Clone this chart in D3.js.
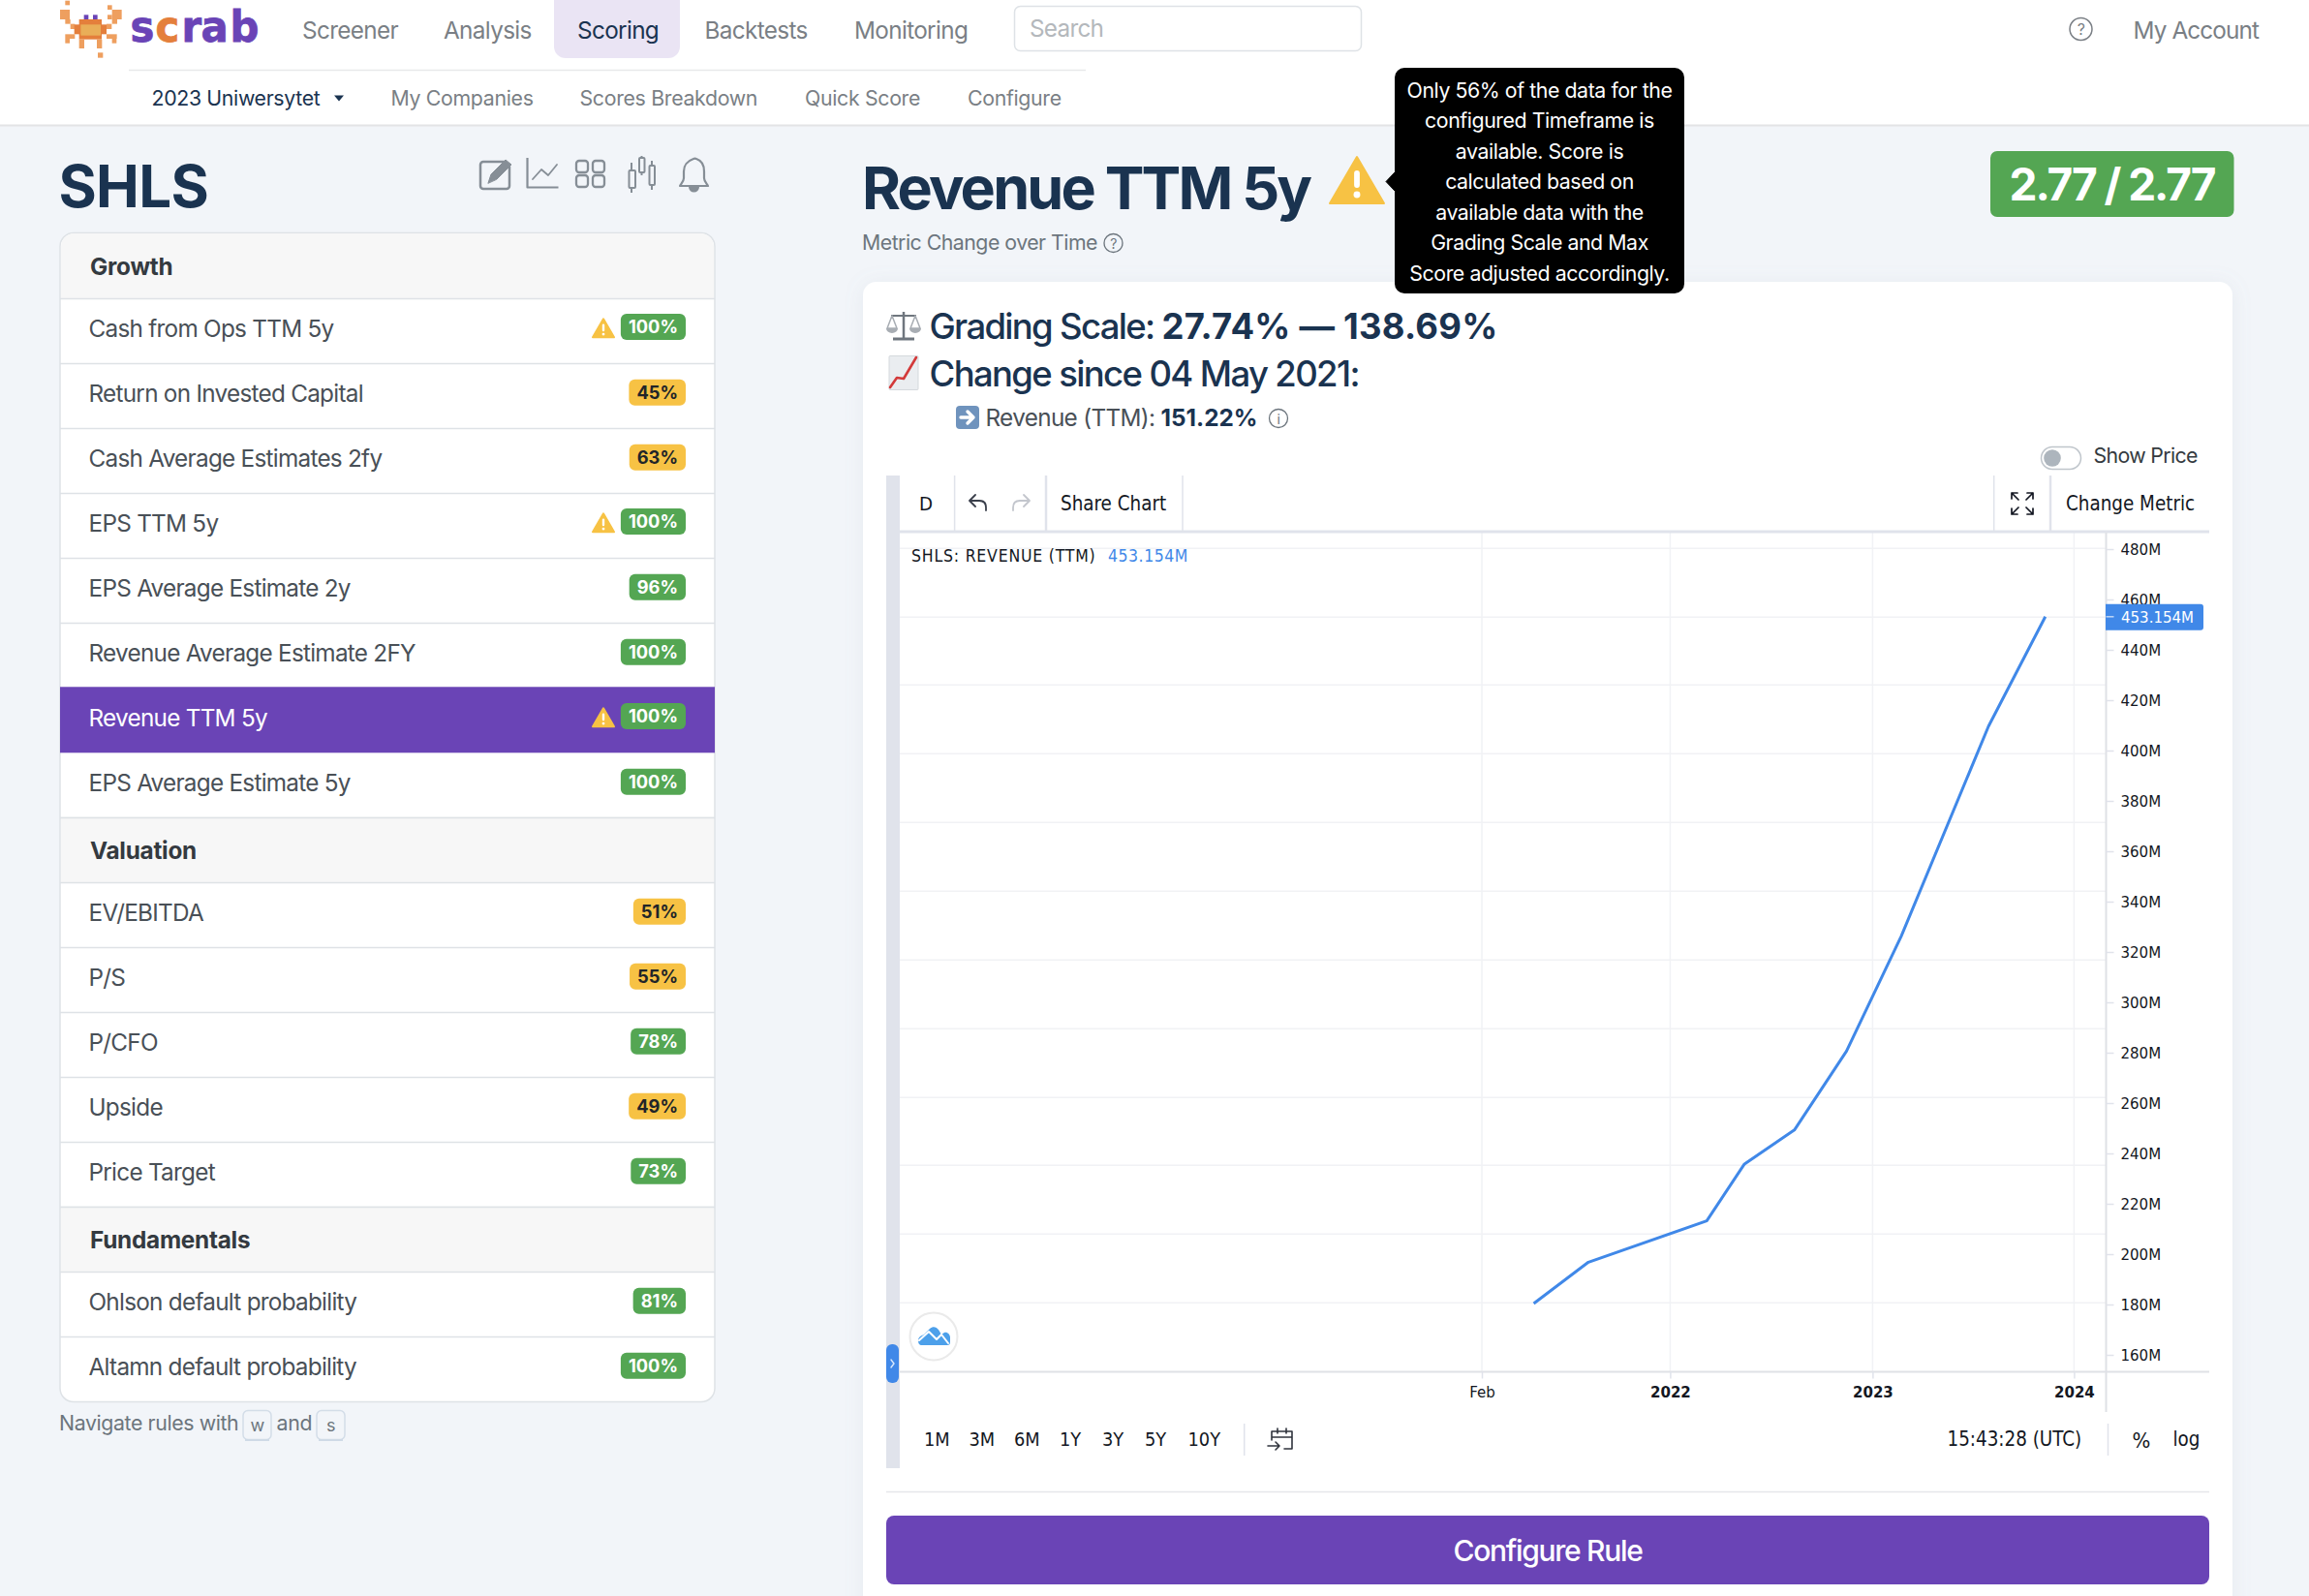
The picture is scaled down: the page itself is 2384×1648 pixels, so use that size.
<!DOCTYPE html>
<html><head><meta charset="utf-8">
<script src="https://cdnjs.cloudflare.com/ajax/libs/d3/7.8.5/d3.min.js"></script>
<style>html,body{margin:0;padding:0;background:#F2F5F9;overflow:hidden}svg{display:block}</style>
</head><body><div id="c"></div>
<script>
// ---------- data ----------
const lineDates = ["2021-05-04","2021-08-09","2022-03-08","2022-05-15","2022-08-13","2022-11-15","2023-02-22","2023-07-30","2023-11-10"];
const lineValues = [180.4,196.8,213.2,235.8,249.3,280.6,326.3,409.6,453.154];
const priceTicks = [160,180,200,220,240,260,280,300,320,340,360,380,400,420,440,460,480];
const gridValues = [480.3,453.1,426,398.7,371.4,344.1,316.8,289.5,262.2,235.3,208,180.7];
const timeTickDates = ["2021-02-01","2022-01-01","2023-01-01","2024-01-01"];
const timeTickLabels = ["Feb","2022","2023","2024"];
const rangeLabels = ["1M","3M","6M","1Y","3Y","5Y","10Y"];
const navItems = ["Screener","Analysis","Scoring","Backtests","Monitoring"];
const subNavItems = ["My Companies","Scores Breakdown","Quick Score","Configure"];
const groupNames = ["Growth","Valuation","Fundamentals"];
const growthRules = ["Cash from Ops TTM 5y","Return on Invested Capital","Cash Average Estimates 2fy","EPS TTM 5y","EPS Average Estimate 2y","Revenue Average Estimate 2FY","Revenue TTM 5y","EPS Average Estimate 5y"];
const growthScores = [100,45,63,100,96,100,100,100];
const valuationRules = ["EV/EBITDA","P/S","P/CFO","Upside","Price Target"];
const valuationScores = [51,55,78,49,73];
const fundamentalRules = ["Ohlson default probability","Altamn default probability"];
const fundamentalScores = [81,100];
const warnedRules = ["Cash from Ops TTM 5y","EPS TTM 5y","Revenue TTM 5y"];
const activeRule = "Revenue TTM 5y";
const tooltipLines = ["Only 56% of the data for the","configured Timeframe is","available. Score is","calculated based on","available data with the","Grading Scale and Max","Score adjusted accordingly."];

// ---------- helpers ----------
const W=2384,H=1648;
const INTER="Inter, 'Noto Sans', sans-serif", TV="'DejaVu Sans Condensed', 'Noto Sans', sans-serif";
const NAVY="#1A3350",GREY="#7A7F85",MID="#495057",MUTED="#6C757D",BLUE="#4088E8",PURPLE="#6A44B6",GREEN="#54A653",YELLOW="#F7C244",LINE="#DEE2E6",TVLINE="#E0E3EB",GRID="#F1F2F5",INK="#131722";
const svg=d3.select("#c").append("svg").attr("width",W).attr("height",H).attr("viewBox",`0 0 ${W} ${H}`);
const defs=svg.append("defs");
const f=defs.append("filter").attr("id","soft").attr("x","-5%").attr("y","-5%").attr("width","110%").attr("height","110%");
f.append("feDropShadow").attr("dx",0).attr("dy",2).attr("stdDeviation",10).attr("flood-color","#8a99ad").attr("flood-opacity",.12);
function T(p,x,y,s,o={}){
  const fam=o.fam||INTER,w=o.w||400;
  const ls=o.ls!==undefined?o.ls:(fam===INTER&&w<700?-0.03:0);
  return p.append("text").attr("x",x).attr("y",y).attr("font-family",fam).attr("font-size",o.size||24.3).attr("font-weight",w).attr("fill",o.fill||MID).attr("text-anchor",o.a||"start").attr("letter-spacing",ls+"em").text(s);
}
function R(p,x,y,w,h,fill,r=0,o={}){const e=p.append("rect").attr("x",x).attr("y",y).attr("width",w).attr("height",h).attr("rx",r).attr("fill",fill);if(o.stroke)e.attr("stroke",o.stroke).attr("stroke-width",o.sw||1.5);return e;}
function L(p,x1,y1,x2,y2,c,w=1.5){return p.append("line").attr("x1",x1).attr("y1",y1).attr("x2",x2).attr("y2",y2).attr("stroke",c).attr("stroke-width",w);}
function P(p,d,o={}){return p.append("path").attr("d",d).attr("fill",o.fill||"none").attr("stroke",o.stroke||"none").attr("stroke-width",o.sw||2).attr("stroke-linecap",o.cap||"round").attr("stroke-linejoin","round");}
function warn(p,x,y,w,h){
  const m=x+w/2;
  P(p,`M${m} ${y+1}L${x+w-1} ${y+h-1}L${x+1} ${y+h-1}Z`,{fill:YELLOW,stroke:YELLOW,sw:2});
  R(p,m-w*.05,y+h*.3,w*.1,h*.36,"#fff",w*.05);
  p.append("circle").attr("cx",m).attr("cy",y+h*.8).attr("r",w*.06).attr("fill","#fff");
}
R(svg,0,0,W,H,"#F2F5F9");

// ---------- top nav ----------
const nav=svg.append("g");
R(nav,0,0,W,129,"#fff");
L(nav,0,129.5,W,129.5,"#E3E4E6",2);
P(nav,"M572 0H702V48a12 12 0 0 1-12 12H584a12 12 0 0 1-12-12Z",{fill:"#EAE4F4"});
const navX=[312,458,596,727.6,882];
navItems.forEach((n,i)=>T(nav,navX[i],39.5,n,{fill:n==="Scoring"?NAVY:GREY,ls:-0.027}));
R(nav,1047.5,6.5,358,46,"#fff",6,{stroke:LINE});
T(nav,1063,38,"Search",{fill:"#B4B8BC"});
nav.append("circle").attr("cx",2148.5).attr("cy",30).attr("r",11.5).attr("fill","none").attr("stroke",GREY).attr("stroke-width",1.5);
T(nav,2148.5,36,"?",{size:16,fill:GREY,a:"middle"});
T(nav,2202.5,39.5,"My Account",{fill:GREY,ls:-0.036});
L(nav,133,72.5,1121,72.5,"#E8E9EA",1.5);
T(nav,156.5,109,"2023 Uniwersytet",{size:21.3,fill:NAVY,ls:-0.016});
P(nav,"M345 98.5h10l-5 6Z",{fill:NAVY});
const subX=[403.5,598.5,831,999];
subNavItems.forEach((n,i)=>T(nav,subX[i],109,n,{size:21.3,fill:GREY,ls:-0.015}));

// logo
const logo=svg.append("g").attr("transform","translate(50,0) scale(.3333)");
const lightO="#EE9F5F",darkO="#E47F3C";
[[52,2,14,14,lightO],[183,16,14,14,lightO],[36,30,30,30,lightO],[52,60,16,14,lightO],[68,74,14,16,lightO],[197,30,30,30,lightO],[183,46,14,14,lightO],[197,60,16,14,lightO],[180,74,16,16,lightO],
 [110,46,14,14,PURPLE],[138,46,14,14,PURPLE],[95,60,70,62,darkO],[80,76,100,30,darkO],[100,76,62,34,"#E9AE58"],
 [52,106,30,14,lightO],[52,120,14,14,lightO],[180,106,32,14,lightO],[197,120,14,14,lightO],[95,122,16,28,lightO],[150,122,16,28,lightO],[153,163,16,16,lightO]
].forEach(d=>R(logo,d[0],d[1],d[2],d[3],d[4]));
const word=svg.append("g");
[["s",134.5,PURPLE],["c",160.5,darkO],["r",187.5,PURPLE],["a",207.5,PURPLE],["b",237.5,PURPLE]].forEach(d=>T(word,0,0,d[0],{fam:"'DejaVu Sans'",w:700,size:44,fill:d[2]}).attr("transform",`translate(${d[1]},43) scale(.95,1)`).attr("stroke",d[2]).attr("stroke-width",.8));

// ---------- left column ----------
T(svg,60.5,214,"SHLS",{size:60,w:700,fill:NAVY,ls:-0.012});
const ic=svg.append("g");
const IC="#868E96";
P(ic,"M522 167H499a3 3 0 0 0-3 3v22a3 3 0 0 0 3 3h24a3 3 0 0 0 3-3V172",{stroke:IC,sw:2.5});
P(ic,"M504 189l3-9 15-15 6 5-15 15Z",{fill:IC,stroke:IC,sw:1});
P(ic,"M544.5 163V193.5H576.5",{stroke:IC,sw:2.2,cap:"butt"});
P(ic,"M550 185l9-10 7 6 9-11",{stroke:IC,sw:1.8});
[[595,166],[612,166],[595,181],[612,181]].forEach(a=>R(ic,a[0],a[1],12,12,"none",3,{stroke:IC,sw:2.3}));
[[652,176,6,18,168,199],[662.5,163,5,15,161,181],[673,171,5,20,166,196]].forEach(a=>{R(ic,a[0]-2.5,a[1],a[2]+.5,a[3],"none",1,{stroke:IC,sw:2});L(ic,a[0],a[4],a[0],a[1],IC,2);L(ic,a[0],a[1]+a[3],a[0],a[5],IC,2);});
P(ic,"M716 164a3 3 0 0 1 3 0c6 2 8 7 8 13v7c0 3 2 5 4 8H702c2-3 4-5 4-8v-7c0-6 4-11 10-13Z",{stroke:IC,sw:2.2});
P(ic,"M711 193a5.5 5.5 0 0 0 11 0Z",{fill:IC});

const list=svg.append("g");
R(list,62,240.5,676,1207,"#fff",14,{stroke:LINE});
const ROW=67;
const groups=[[groupNames[0],growthRules,growthScores],[groupNames[1],valuationRules,valuationScores],[groupNames[2],fundamentalRules,fundamentalScores]];
let yCur=241;
groups.forEach((g,gi)=>{
  const hT=gi===0?241:yCur, hH=gi===0?67.3:ROW;
  if(gi===0)P(list,`M63 ${hT+hH}V255a14 14 0 0 1 14-14H723a14 14 0 0 1 14 14V${hT+hH}Z`,{fill:"#F7F7F7"});
  else {R(list,63,hT,674,hH,"#F7F7F7");L(list,62,hT+.2,738,hT+.2,LINE,1.5);}
  T(list,93,hT+hH-24.2,g[0],{w:700,size:24.3,fill:"#343A40",ls:-0.01});
  L(list,62,hT+hH+.2,738,hT+hH+.2,LINE,1.5);
  yCur=hT+hH;
  g[1].forEach((name,i)=>{
    const active=name===activeRule,w=warnedRules.includes(name),top=yCur;
    if(active)R(list,62,top-1,676,ROW+1,PURPLE);
    T(list,91.5,top+39.6,name,{fill:active?"#fff":MID});
    const s=g[2][i],good=s>=70,by=top+(w?15.6:16.4);
    const b=list.append("g");
    const rect=R(b,640,by,68,27,good?GREEN:YELLOW,6);
    const tx=T(b,700,by+20,s+"%",{size:18.3,w:700,fill:good?"#fff":"#212529",a:"end"});
    const tw=tx.node().getComputedTextLength();
    rect.attr("x",700-tw-8).attr("width",tw+16);
    if(w)warn(list,611,top+20,24,21);
    yCur=top+ROW;
    if(!(gi===2&&i===g[1].length-1)&&!active)L(list,62,yCur+.2,738,yCur+.2,LINE,1.5);
  });
});
T(svg,61,1477,"Navigate rules with",{size:21.3,fill:MUTED,ls:-0.018});
T(svg,285.5,1477,"and",{size:21.3,fill:MUTED,ls:-0.015});
[[251,"w"],[327,"s"]].forEach(d=>{
  R(svg,d[0],1456.5,29,30,"#F2F5F9",5,{stroke:"#D3DDE8",sw:1.5});
  L(svg,d[0]+2,1487,d[0]+27,1487,"#CFDAE6",2);
  T(svg,d[0]+14.5,1478,d[1],{size:18,fill:MUTED,a:"middle"});
});

// ---------- right header ----------
T(svg,890,216,"Revenue TTM 5y",{size:61,w:700,fill:NAVY,ls:-0.046});
warn(svg,1372,161,58,50);
R(svg,2055,156,251.5,68,GREEN,7);
T(svg,2180.5,206.5,"2.77 / 2.77",{size:46,w:700,fill:"#fff",a:"middle",ls:-0.045});
T(svg,890,258,"Metric Change over Time",{size:21.3,fill:MUTED,ls:-0.024});
svg.append("circle").attr("cx",1149.5).attr("cy",251).attr("r",9.5).attr("fill","none").attr("stroke",MUTED).attr("stroke-width",1.3);
T(svg,1149.5,256.5,"?",{size:14,fill:MUTED,a:"middle"});

// ---------- card ----------
const card=svg.append("g");
R(card,891,291,1414,1390,"#fff",14).attr("filter","url(#soft)");
function scaleEmoji(g){
  const c="#A8ADB3",d="#6F767E";
  L(g,933,322,933,350,d,2.5);L(g,922,350,944,350,d,3);L(g,920,326,946,326,d,2);
  P(g,"M921 326l-5 13h10ZM945 326l-5 13h10Z",{stroke:c,sw:1.5});
  P(g,"M915 339a6 5 0 0 0 12 0ZM939 339a6 5 0 0 0 12 0Z",{fill:c});
}
scaleEmoji(card);
T(card,959.5,350,"Grading Scale: ",{size:36.5,w:500,fill:NAVY,ls:-0.046}).append("tspan").attr("font-weight",700).attr("letter-spacing","0.006em").text("27.74% — 138.69%");
R(card,918,367.5,30,35,"#EAEDF0",1,{stroke:"#D5D9DD",sw:1});
P(card,"M919 400l7-10 7 1 13-22",{stroke:"#D33A3A",sw:2.6});
T(card,959.5,399,"Change since 04 May 2021:",{size:36.5,w:500,fill:NAVY,ls:-0.045});
R(card,987,419,24,24,"#6F93BD",4);
P(card,"M992 431h13M999 425l6 6-6 6",{stroke:"#fff",sw:3.4});
T(card,1017.5,440,"Revenue (TTM): ",{size:24.3,fill:MID,ls:-0.027}).append("tspan").attr("font-weight",700).attr("letter-spacing","0em").attr("fill",NAVY).text("151.22%");
card.append("circle").attr("cx",1320).attr("cy",432).attr("r",9.5).attr("fill","none").attr("stroke",MUTED).attr("stroke-width",1.3);
T(card,1320,437.5,"i",{size:14,fill:MUTED,a:"middle"});
R(card,2107.5,461.5,41,23,"#fff",11.5,{stroke:"#BFC5CB",sw:1.5});
card.append("circle").attr("cx",2119).attr("cy",473).attr("r",8.8).attr("fill","#ADB5BD");
T(card,2161.5,477.5,"Show Price",{size:21.3,fill:"#343A40",ls:-0.03});

// ---------- chart ----------
const chart=svg.append("g");
const xScale=d3.scaleUtc().domain(timeTickDates.map(d=>new Date(d))).range([1530,1724.4,1933.4,2141.4]);
const yScale=d3.scaleLinear().domain([160,480]).range([1399,567]);
R(chart,915,491,14,1025,TVLINE);
chart.append("g").selectAll("line").data(gridValues).join("line")
 .attr("x1",929).attr("x2",2174).attr("y1",d=>Math.round(yScale(d))+.3).attr("y2",d=>Math.round(yScale(d))+.3).attr("stroke",GRID).attr("stroke-width",1.5);
chart.append("g").selectAll("line").data(timeTickDates).join("line")
 .attr("x1",d=>xScale(new Date(d))).attr("x2",d=>xScale(new Date(d))).attr("y1",550).attr("y2",1416).attr("stroke",GRID).attr("stroke-width",1.5);
L(chart,929,549,2281,549,TVLINE,3);
[985.6,1080,1221,2058.7,2117].forEach(x=>L(chart,x,491,x,548,TVLINE,x===1080||x===2117?2.5:1.5));
T(chart,956,527,"D",{fam:TV,size:20.3,fill:INK,a:"middle"});
P(chart,"M1018 527v-3c0-5-3-7-7-7h-9M1007 511l-6 6 6 6",{stroke:"#3A3F4B",sw:1.8});
P(chart,"M1046 527v-3c0-5 3-7 7-7h9M1057 511l6 6-6 6",{stroke:"#C3C6CD",sw:1.8});
T(chart,1095,527,"Share Chart",{fam:TV,size:20.4,fill:INK});
P(chart,"M2077 515v-6h6M2077 509l7 7M2099 515v-6h-6M2099 509l-7 7M2077 525v6h6M2077 531l7-7M2099 525v6h-6M2099 531l-7-7",{stroke:INK,sw:1.7});
T(chart,2133,527,"Change Metric",{fam:TV,size:20.4,fill:INK});
T(chart,941,580,"SHLS: REVENUE (TTM)",{fam:TV,size:17.5,fill:INK,ls:0.045});
T(chart,1144,580,lineValues[lineValues.length-1].toFixed(3)+"M",{fam:TV,size:17.5,fill:BLUE,ls:0.03});
L(chart,929,1416.5,2281,1416.5,"#DFE1E6",2);
L(chart,2174.5,550,2174.5,1458,"#DFE1E6",2);
const yAxis=d3.axisRight(yScale).tickValues(priceTicks).tickSize(8).tickPadding(7).tickFormat(d=>d+"M");
const ya=chart.append("g").attr("transform","translate(2174.5,0)").call(yAxis);
ya.select(".domain").remove();
ya.selectAll("line").attr("stroke",TVLINE).attr("stroke-width",1.5);
ya.selectAll("text").attr("font-family",TV).attr("font-size",16.7).attr("fill",INK);
const xAxis=d3.axisBottom(xScale).tickValues(timeTickDates.map(d=>new Date(d))).tickSize(7).tickPadding(8).tickFormat((d,i)=>timeTickLabels[i]);
const xa=chart.append("g").attr("transform","translate(0,1416.5)").call(xAxis);
xa.select(".domain").remove();
xa.selectAll("line").attr("stroke",TVLINE).attr("stroke-width",1.5);
xa.selectAll("text").attr("font-family",TV).attr("font-size",16.7).attr("fill",INK).attr("font-weight",(d,i)=>i===0?400:700);
const lineGen=d3.line().x(d=>xScale(new Date(d.date))).y(d=>yScale(d.value)).curve(d3.curveLinear);
chart.append("path").datum(lineDates.map((d,i)=>({date:d,value:lineValues[i]}))).attr("d",lineGen).attr("fill","none").attr("stroke",BLUE).attr("stroke-width",3).attr("stroke-linejoin","round");
const lastY=yScale(lineValues[lineValues.length-1]);
P(chart,`M2174 ${lastY-13}H2272a3 3 0 0 1 3 3V${lastY+11}a3 3 0 0 1-3 3H2174Z`,{fill:BLUE});
L(chart,2174.5,lastY,2182.5,lastY,"#BFD6F6",1.5);
T(chart,2190,lastY+6,lineValues[lineValues.length-1].toFixed(3)+"M",{fam:TV,size:16.7,fill:"#fff"});
R(chart,915,1388,13,40,BLUE,6);
P(chart,"M920 1404l3 4-3 4",{stroke:"#D8E7FB",sw:1.4});
chart.append("circle").attr("cx",964).attr("cy",1380).attr("r",24.5).attr("fill","#fff").attr("stroke","#EAEAEA").attr("stroke-width",2);
P(chart,"M948 1384c0-3 3-5 6-6l6-6c3-3 7-2 9 1l3 5 3-2c3-1 6 2 6 5v5c0 2-1 3-3 3H952c-3 0-4-2-4-5Z",{fill:"#4DA0EA"});
P(chart,"M949 1384l10-9 8 8 5-5 7 9",{stroke:"#fff",sw:2});
const rangeX=[954,1000.5,1047,1094,1138,1182,1226.5];
rangeLabels.forEach((r,i)=>T(chart,rangeX[i],1493,r,{fam:TV,size:19.8,fill:INK}));
L(chart,1284.7,1470,1284.7,1503,TVLINE,1.5);
P(chart,"M1313 1478h21v18h-8M1313 1478v9M1319 1475v5M1328 1475v5M1313 1484h21M1309 1493h12M1317 1489l4 4-4 4",{stroke:"#2F333C",sw:1.6});
T(chart,2010.5,1493,"15:43:28 (UTC)",{fam:TV,size:20.4,fill:INK});
L(chart,2176.5,1470,2176.5,1503,TVLINE,1.5);
T(chart,2211,1495,"%",{fam:TV,size:22,fill:INK,a:"middle"});
T(chart,2257.5,1493,"log",{fam:TV,size:20.4,fill:INK,a:"middle"});
L(card,915,1540.5,2281,1540.5,"#E5E7EA",1.5);
R(svg,915,1565,1366,71,PURPLE,8);
T(svg,1598,1612,"Configure Rule",{size:30,w:500,fill:"#fff",a:"middle",ls:-0.043});

// ---------- tooltip ----------
const tip=svg.append("g");
P(tip,"M1441 177L1431 187.5L1441 198Z",{fill:"#000",stroke:"#000",sw:1});
R(tip,1440,70,299,233,"#000",10);
tooltipLines.forEach((l,i)=>T(tip,1589.5,100.5+i*31.5,l,{size:21.3,fill:"#fff",a:"middle",ls:-0.02}));
</script></body></html>
